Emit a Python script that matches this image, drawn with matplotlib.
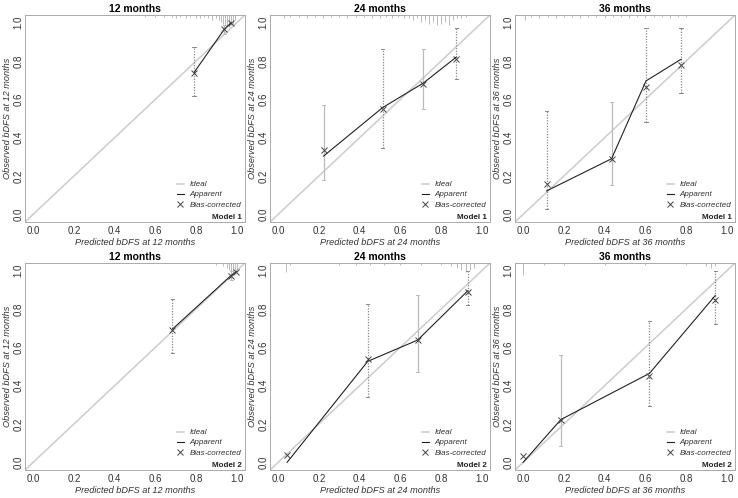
import matplotlib
matplotlib.use("Agg")
import matplotlib.pyplot as plt
import numpy as np

plt.rcParams['font.family'] = ['Liberation Sans', 'DejaVu Sans']

titles = ["12 months", "24 months", "36 months"]
months = [12, 24, 36]
models = ["Model 1", "Model 2"]

# predicted (x), apparent (y), bias-corrected (y), CI low/high
pred = [
    [0.79, 0.938, 0.972],
    [0.223, 0.513, 0.713, 0.874],
    [0.115, 0.434, 0.603, 0.775],
    [0.684, 0.972, 0.998],
    [0.044, 0.44, 0.685, 0.931],
    [0.0, 0.185, 0.62, 0.943],
]
apparent = [
    [0.74, 0.965, 1.0],
    [0.304, 0.557, 0.685, 0.82],
    [0.122, 0.29, 0.696, 0.809],
    [0.695, 0.975, 0.995],
    [0.0, 0.527, 0.638, 0.895],
    [0.0, 0.223, 0.464, 0.87],
]
corrected = [
    [0.736, 0.965, 0.997],
    [0.336, 0.551, 0.682, 0.812],
    [0.157, 0.287, 0.666, 0.777],
    [0.692, 0.974, 0.991],
    [0.04, 0.539, 0.638, 0.887],
    [0.035, 0.223, 0.452, 0.847],
]
ci_low = [
    [0.617, 0.94, None],
    [0.18, 0.348, 0.548, 0.704],
    [0.03, 0.151, 0.482, 0.635],
    [0.569, 0.95, None],
    [None, 0.34, 0.47, 0.823],
    [None, 0.087, 0.296, 0.722],
]
ci_high = [
    [0.875, 0.99, None],
    [0.571, 0.864, 0.861, 0.974],
    [0.539, 0.588, 0.974, 0.974],
    [0.852, 1.0, None],
    [None, 0.826, 0.875, 0.997],
    [None, 0.562, 0.739, 0.997],
]
# s = solid light grey, d = dotted darker grey
ci_style = [
    ["d", "s", None],
    ["s", "d", "s", "d"],
    ["d", "s", "d", "d"],
    ["d", "s", None],
    [None, "d", "s", "d"],
    [None, "s", "d", "d"],
]

# rug of predicted values along the top: positions and relative heights
rug_pos = [
    [0.55, 0.6, 0.64, 0.68, 0.7, 0.72, 0.75, 0.77, 0.8, 0.82, 0.84, 0.86, 0.88, 0.9, 0.91, 0.92, 0.93, 0.94, 0.95, 0.96, 0.97, 0.98, 0.99],
    [0.03, 0.06, 0.1, 0.14, 0.18, 0.22, 0.26, 0.3, 0.34, 0.38, 0.42, 0.46, 0.5, 0.53, 0.56, 0.59, 0.62, 0.64, 0.66, 0.68, 0.7, 0.72, 0.74, 0.76, 0.78, 0.8, 0.82, 0.84, 0.86, 0.88, 0.9, 0.92],
    [0.01, 0.04, 0.08, 0.12, 0.16, 0.2, 0.24, 0.28, 0.32, 0.36, 0.4, 0.44, 0.48, 0.52, 0.56, 0.6, 0.64, 0.68, 0.72, 0.76, 0.8],
    [0.9, 0.93, 0.95, 0.96, 0.97, 0.98, 0.99, 1.0],
    [0.04, 0.06, 0.3, 0.38, 0.45, 0.52, 0.6, 0.7, 0.8, 0.85, 0.88, 0.9, 0.92, 0.94, 0.96],
    [0.0, 0.1, 0.2, 0.4, 0.6, 0.8, 0.9, 0.92, 0.94],
]
rug_h = [
    [1, 1, 1, 1, 2, 1, 2, 1, 2, 2, 1, 2, 3, 2, 3, 4, 5, 6, 6, 7, 6, 5, 3],
    [2, 1, 1, 2, 1, 2, 1, 1, 2, 1, 1, 2, 2, 1, 2, 1, 2, 2, 3, 2, 4, 3, 5, 4, 6, 5, 4, 6, 3, 2, 2, 1],
    [3, 1, 2, 1, 2, 1, 1, 2, 1, 1, 2, 1, 1, 2, 1, 2, 1, 1, 2, 1, 1],
    [1, 2, 3, 4, 5, 6, 5, 4],
    [5, 1, 1, 1, 1, 1, 1, 1, 1, 2, 3, 4, 5, 4, 3],
    [7, 1, 1, 1, 1, 1, 2, 3, 2],
]

fig = plt.figure(figsize=(7.38, 4.98), dpi=100)
W, H = 738.0, 498.0
lefts = [25, 270, 515]
tops = [15, 263]
aw, ah = 220, 207

for i in range(6):
    r, c = i // 3, i % 3
    ax = fig.add_axes([lefts[c] / W, 1 - (tops[r] + ah) / H, aw / W, ah / H])
    ax.set_xlim(-0.04, 1.04)
    ax.set_ylim(-0.04, 1.04)

    ax.plot([-0.04, 1.04], [-0.04, 1.04], color='#cccccc', lw=1.1, label='Ideal', zorder=1)

    # rug
    hs = np.array(rug_h[i]) * 0.009
    ax.vlines(rug_pos[i], 1.04 - hs, 1.04, color='#b0b0b0', lw=0.6, zorder=1)

    for j in range(len(pred[i])):
        if ci_low[i][j] is None:
            continue
        if ci_style[i][j] == "s":
            col, ls = '#bbbbbb', '-'
        else:
            col, ls = '#888888', (0, (1, 1.2))
        ax.vlines(pred[i][j], ci_low[i][j], ci_high[i][j], color=col, lw=0.9, linestyles=ls, zorder=2)
        for yy in (ci_low[i][j], ci_high[i][j]):
            ax.plot([pred[i][j] - 0.008, pred[i][j] + 0.008], [yy, yy], color=col, lw=0.7, zorder=2)

    ax.plot(pred[i], apparent[i], color='#222222', lw=0.8, label='Apparent', zorder=3)
    ax.plot(pred[i], corrected[i], ls='none', marker='x', ms=4, mew=0.7, color='#444444',
            label='Bias-corrected', zorder=4)

    m = months[c]
    ax.set_title(titles[c], fontsize=7.5, fontweight='bold', pad=2)
    ax.set_xlabel("Predicted bDFS at %d months" % m, fontsize=6.6, style='italic', color='#333333', labelpad=1)
    ax.set_ylabel("Observed bDFS at %d months" % m, fontsize=6.6, style='italic', color='#333333')
    ax.yaxis.set_label_coords(-0.058, 0.5)
    ticks = [0.0, 0.2, 0.4, 0.6, 0.8, 1.0]
    ax.set_xticks(ticks)
    ax.set_yticks(ticks)
    ax.set_xticklabels(["%.1f" % t for t in ticks], fontsize=7, color='#333333')
    ax.set_yticklabels(["%.1f" % t for t in ticks], fontsize=7, color='#333333', rotation=90, va='center')
    ax.tick_params(axis='x', length=0, pad=3)
    ax.tick_params(axis='y', length=0, pad=1)
    for s in ax.spines.values():
        s.set_color('#aaaaaa')
        s.set_linewidth(0.7)

    leg = ax.legend(loc='lower left', bbox_to_anchor=(0.69, 0.065), frameon=False, fontsize=5.8,
                    handlelength=0.9, handletextpad=0.7, labelspacing=0.3, borderpad=0, borderaxespad=0)
    for t in leg.get_texts():
        t.set_style('italic')
        t.set_color('#333333')
    ax.text(0.985, 0.006, models[r], transform=ax.transAxes, ha='right', va='bottom',
            fontsize=5.8, fontweight='bold', color='#222222')

fig.savefig("out.png", dpi=100)
